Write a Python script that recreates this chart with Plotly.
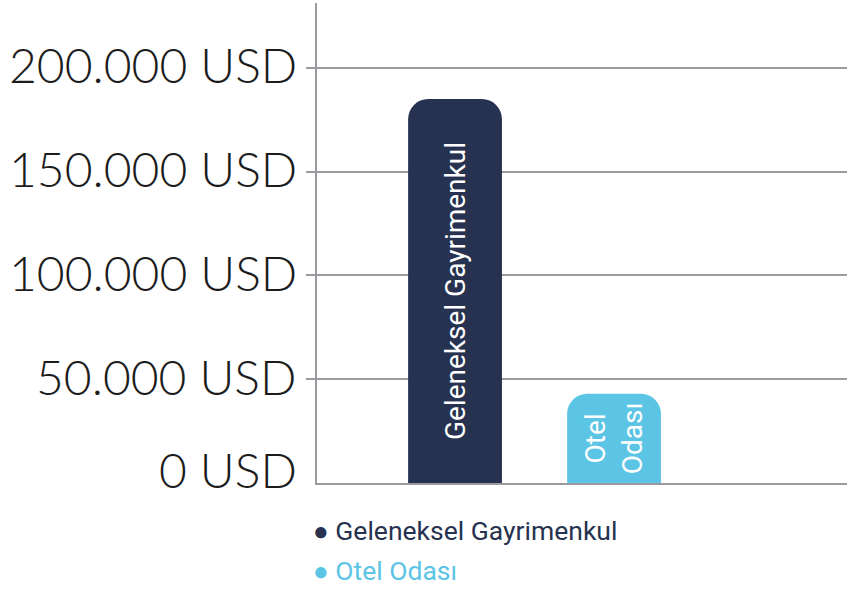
import plotly.graph_objects as go

categories = ["Geleneksel Gayrimenkul", "Otel Odası"]
bar_labels = ["Geleneksel Gayrimenkul", "Otel<br>Odası"]
values = [185000, 43000]
colors = ["#26324f", "#5cc4e5"]
tick_values = [0, 50000, 100000, 150000, 200000]
tick_labels = ["0 USD", "50.000 USD", "100.000 USD", "150.000 USD", "200.000 USD"]

fig = go.Figure()
fig.add_trace(go.Bar(
    x=[0, 1], y=values, width=0.59,
    marker=dict(color=colors, line=dict(width=0)),
    text=bar_labels, textposition="inside", insidetextanchor="middle",
    textangle=-90, constraintext="none",
    insidetextfont=dict(family="Roboto", size=28, color="white"),
    showlegend=False, hoverinfo="skip",
))

annotations = []
for v, t in zip(tick_values, tick_labels):
    annotations.append(dict(
        x=0, xref="paper", xanchor="right", xshift=-18,
        y=v, yref="y", yanchor="middle", yshift=(14 if v == 0 else 3),
        text=t, showarrow=False,
        font=dict(family="Lato", size=48, color="#1c1c1c", weight=300),
    ))

legend_y = [-0.098, -0.183]
for name, c, ly in zip(categories, colors, legend_y):
    annotations.append(dict(
        x=-0.012, xref="paper", xanchor="left",
        y=ly, yref="paper", yanchor="middle",
        text=f"<span style='font-size:26px'>●</span> {name}",
        showarrow=False,
        font=dict(family="Roboto", size=26.5, color=c),
    ))

fig.update_layout(
    width=847, height=589,
    margin=dict(l=317, r=0, t=3, b=106),
    paper_bgcolor="white", plot_bgcolor="white",
    barcornerradius=20,
    annotations=annotations,
    xaxis=dict(range=[-0.868, 2.465], showgrid=False, zeroline=False,
               showticklabels=False, ticks="", showline=True,
               linecolor="#9b9b9f", linewidth=2, fixedrange=True),
    yaxis=dict(range=[0, 231300], tickvals=tick_values[1:], showticklabels=False,
               ticks="outside", ticklen=9, tickcolor="#9b9b9f", tickwidth=2,
               showgrid=True, gridcolor="#9b9b9f", gridwidth=2, zeroline=False,
               showline=True, linecolor="#9b9b9f", linewidth=2, fixedrange=True),
)

fig.write_html("out.html")
